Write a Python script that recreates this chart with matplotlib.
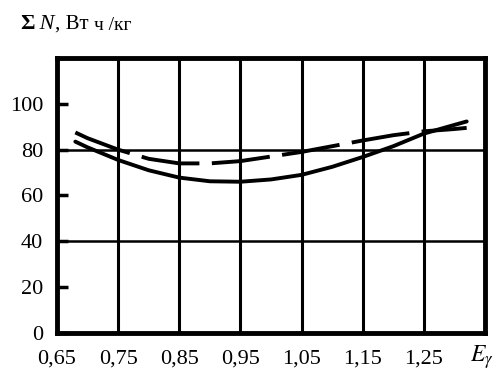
import numpy as np
import matplotlib
matplotlib.use("Agg")
import matplotlib.pyplot as plt

plt.rcParams['font.family'] = ['Liberation Serif', 'DejaVu Serif']
plt.rcParams['mathtext.fontset'] = 'stix'

# values
x_vals = [0.68, 0.70, 0.75, 0.80, 0.85, 0.90, 0.95, 1.00, 1.05, 1.10, 1.15, 1.20, 1.25, 1.30, 1.32]
n_solid = [83.5, 81.0, 75.5, 71.0, 67.8, 66.2, 66.0, 67.0, 69.0, 72.5, 76.8, 81.5, 87.0, 90.8, 92.3]
n_dashed = [87.5, 85.0, 80.0, 76.0, 74.0, 74.0, 75.0, 77.0, 79.0, 81.5, 84.0, 86.3, 88.0, 89.0, 89.5]

x_ticks = [0.65, 0.75, 0.85, 0.95, 1.05, 1.15, 1.25]
x_labels = ['0,65', '0,75', '0,85', '0,95', '1,05', '1,15', '1,25']
y_ticks = [0, 20, 40, 60, 80, 100]

fig = plt.figure(figsize=(4.99, 3.74), dpi=100)
ax = fig.add_axes([0.1142, 0.1096, 0.8578, 0.7354])

ax.set_xlim(0.65, 1.35)
ax.set_ylim(0, 120)

# grid: vertical lines and two horizontal lines
for xv in x_ticks[1:]:
    ax.axvline(xv, color='black', lw=2.2, zorder=1)
for yv in [40, 80]:
    ax.axhline(yv, color='black', lw=1.8, zorder=1)

ax.plot(x_vals, n_solid, color='black', lw=2.8, solid_capstyle='round', zorder=3)
ax.plot(x_vals, n_dashed, color='black', lw=2.8, dashes=(15, 3.2), zorder=3)

for sp in ax.spines.values():
    sp.set_linewidth(3.5)

ax.set_xticks(x_ticks)
ax.set_xticklabels(x_labels)
ax.set_yticks(y_ticks)
ax.tick_params(axis='x', length=0, pad=12, labelsize=16)
ax.tick_params(axis='y', direction='in', length=8, width=2.5, pad=10, labelsize=16)

fig.text(482 / 499, 1 - 357 / 374, r'$E_\gamma$', fontsize=17, ha='center', va='center')

# y axis title in pieces of different size
t1 = fig.text(20 / 499, 1 - 29 / 374, 'Σ', fontsize=16, fontweight='bold', va='baseline')
t2 = ax.annotate(' N', xy=(1, 0), xycoords=t1, fontsize=16, style='italic', va='bottom')
t3 = ax.annotate(', Вт ', xy=(1, 0), xycoords=t2, fontsize=15, va='bottom')
t4 = ax.annotate('ч /кг', xy=(1, 0), xycoords=t3, fontsize=14, va='bottom')

fig.savefig('out.png', dpi=100)
